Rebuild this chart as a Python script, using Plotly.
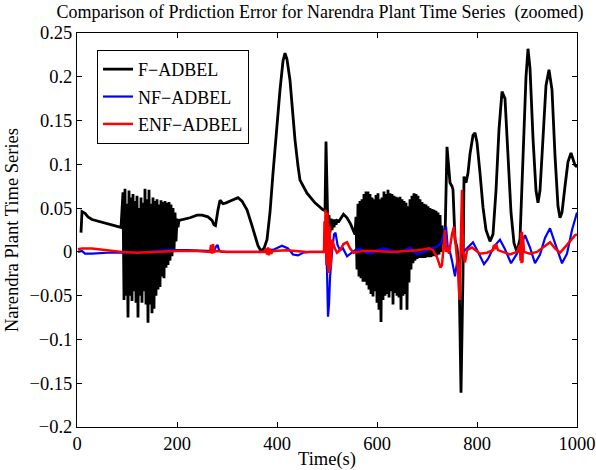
import plotly.graph_objects as go

# ---------------- data ----------------
# F-ADBEL (black): smooth parts
f_pre_t = [8, 10, 16, 22, 30, 50, 70, 88]
f_pre_v = [0.022, 0.046, 0.044, 0.040, 0.037, 0.034, 0.031, 0.028]

# burst 1: oscillation peaks (hi) and troughs (lo)
b1_t = [92, 96, 100, 104, 108, 112, 116, 120, 124, 128, 132, 136, 140, 144,
        148, 152, 156, 160, 164, 168, 172, 176, 180, 184, 188, 192, 196, 200]
b1_hi = [0.068, 0.072, 0.055, 0.070, 0.062, 0.066, 0.058, 0.064, 0.050, 0.062,
         0.056, 0.072, 0.060, 0.071, 0.055, 0.062, 0.058, 0.060, 0.054, 0.059,
         0.057, 0.058, 0.056, 0.057, 0.054, 0.050, 0.045, 0.038]
b1_lo = [-0.055, -0.050, -0.075, -0.050, -0.056, -0.045, -0.058, -0.075, -0.050,
         -0.058, -0.045, -0.060, -0.081, -0.060, -0.070, -0.065, -0.050, -0.043,
         -0.040, -0.028, -0.030, -0.018, -0.015, -0.010, -0.005, 0.000, 0.012, 0.028]

f_mid_t = [204, 214, 226, 240, 250, 262, 270, 274, 277, 282, 286, 292, 298, 310,
           322, 330, 340, 350, 356, 362, 368, 374, 380, 386, 392, 400, 406, 412,
           416, 420, 426, 432, 436, 442, 446, 460, 476, 492, 496, 498, 500,
           502, 504, 506, 508, 510, 512, 514, 516, 518, 520, 524, 533, 540, 547,
           553, 556]
f_mid_v = [0.036, 0.037, 0.039, 0.042, 0.042, 0.040, 0.036, 0.031, 0.030, 0.048,
           0.059, 0.055, 0.056, 0.059, 0.062, 0.058, 0.048, 0.030, 0.017, 0.007,
           0.001, 0.004, 0.014, 0.045, 0.090, 0.150, 0.185, 0.218, 0.227, 0.220,
           0.196, 0.155, 0.128, 0.098, 0.082, 0.067, 0.056, 0.048, 0.047, 0.126,
           0.045, 0.020, 0.042, 0.022, 0.038, 0.025, 0.037, 0.028, 0.037, 0.031,
           0.036, 0.035, 0.043, 0.039, 0.032, 0.025, 0.020]

# burst 2
b2_t = [558, 562, 566, 570, 574, 578, 582, 586, 590, 594, 598, 602, 606, 610,
        614, 618, 622, 626, 630, 634, 638, 642, 646, 650, 654, 658, 662, 666,
        670, 674, 678, 682, 686, 690, 694, 698, 702, 706, 710, 714, 718, 722,
        726, 730]
b2_hi = [0.040, 0.055, 0.058, 0.060, 0.066, 0.069, 0.069, 0.066, 0.062, 0.060,
         0.065, 0.067, 0.060, 0.062, 0.069, 0.066, 0.071, 0.067, 0.066, 0.064,
         0.063, 0.062, 0.063, 0.060, 0.058, 0.056, 0.052, 0.060, 0.064, 0.067,
         0.066, 0.064, 0.060, 0.057, 0.055, 0.054, 0.052, 0.050, 0.049, 0.048,
         0.047, 0.045, 0.042, 0.030]
b2_lo = [-0.020, -0.028, -0.030, -0.034, -0.034, -0.038, -0.043, -0.048, -0.051,
         -0.045, -0.058, -0.066, -0.080, -0.055, -0.050, -0.048, -0.052, -0.045,
         -0.060, -0.047, -0.050, -0.052, -0.066, -0.050, -0.048, -0.066, -0.035,
         -0.020, -0.013, -0.010, -0.008, -0.007, -0.007, -0.007, -0.007, -0.006,
         -0.006, -0.006, -0.005, -0.005, -0.004, -0.003, 0.000, 0.010]

f_end_t = [734, 736, 740, 744, 746, 750, 752, 756, 760, 764, 768, 772, 774, 778,
           782, 786, 792, 796, 800, 806, 812, 818, 826, 832, 838, 844, 850, 856,
           862, 868, 874, 880, 886, 892, 898, 902, 906, 912, 918, 922, 926, 932,
           938, 944, 950, 956, 962, 966, 970, 976, 982, 988, 992, 996, 1000]
f_end_v = [0.010, 0.014, 0.120, 0.095, 0.079, 0.075, 0.071, 0.014, 0.005, -0.020,
           -0.161, -0.024, 0.086, 0.079, 0.090, 0.112, 0.133, 0.136, 0.125, 0.090,
           0.051, 0.025, 0.012, 0.020, 0.070, 0.140, 0.183, 0.175, 0.110, 0.045,
           0.010, 0.000, 0.015, 0.100, 0.200, 0.232, 0.210, 0.130, 0.070, 0.056,
           0.070, 0.130, 0.190, 0.208, 0.185, 0.110, 0.052, 0.039, 0.045, 0.075,
           0.103, 0.113, 0.105, 0.099, 0.097]

# NF-ADBEL (blue)
nf_t = [2, 10, 16, 30, 60, 100, 140, 180, 220, 260, 274, 278, 281, 284, 290, 330,
        370, 395, 410, 422, 432, 442, 452, 466, 490, 498, 500, 502, 504, 506, 510,
        514, 517, 521, 526, 532, 540, 548, 556, 566, 578, 590, 600, 612, 626, 640,
        656, 666, 680, 694, 708, 720, 728, 734, 738, 742, 746, 750, 756, 760, 764,
        768, 772, 780, 792, 802, 814, 822, 834, 846, 856, 868, 880, 896, 906, 916,
        926, 936, 946, 956, 970, 980, 990, 1000]
nf_v = [0.000, 0.001, -0.002, -0.002, -0.001, -0.001, 0.000, 0.002, 0.002, 0.001,
        0.001, 0.006, 0.008, 0.002, 0.000, 0.000, 0.000, 0.003, 0.007, 0.004,
        -0.003, -0.004, -0.001, 0.000, 0.000, 0.000, -0.020, -0.074, -0.060, -0.030,
        0.000, 0.020, 0.022, 0.008, 0.002, 0.004, -0.005, -0.001, 0.002, 0.004,
        -0.001, -0.002, 0.002, 0.004, 0.002, -0.001, 0.002, 0.005, -0.003, 0.000,
        0.004, 0.006, 0.010, 0.022, 0.029, 0.002, 0.000, -0.010, -0.028, -0.012,
        -0.015, -0.005, 0.000, 0.004, 0.011, 0.000, -0.014, -0.008, 0.006, 0.014,
        0.003, -0.013, -0.002, 0.019, 0.005, -0.013, -0.003, 0.016, 0.027, 0.010,
        -0.013, -0.002, 0.025, 0.045]

# ENF-ADBEL (red)
enf_t = [2, 10, 30, 60, 90, 120, 160, 200, 240, 266, 268, 270, 272, 274, 278, 300,
         340, 376, 378, 380, 382, 384, 386, 388, 392, 420, 460, 490, 494, 495, 496,
         497, 499, 501, 503, 505, 507, 510, 515, 520, 526, 533, 540, 546, 553, 570,
         600, 630, 660, 680, 694, 704, 712, 720, 727, 730, 733, 736, 738, 741, 744,
         750, 754, 758, 762, 765, 767, 770, 772, 776, 780, 790, 806, 820, 832, 834,
         836, 838, 842, 856, 866, 880, 886, 887, 888, 889, 890, 891, 892, 894, 906,
         920, 935, 946, 956, 966, 980, 996, 1000]
enf_v = [0.003, 0.004, 0.004, 0.002, 0.000, -0.001, 0.000, 0.001, 0.001, 0.000,
         0.008, -0.002, 0.009, 0.000, 0.001, 0.000, 0.000, 0.000, 0.004, -0.003,
         0.005, -0.004, 0.004, -0.002, 0.001, 0.002, 0.000, 0.000, 0.000, 0.035,
         0.000, 0.048, -0.015, 0.045, -0.024, 0.030, -0.020, 0.014, 0.005, -0.001,
         0.002, 0.009, 0.011, 0.004, -0.001, 0.001, 0.001, 0.000, 0.001, 0.002,
         0.003, 0.004, 0.002, -0.006, -0.018, -0.015, 0.005, 0.025, 0.000, 0.005,
         -0.002, 0.020, 0.029, 0.000, -0.020, -0.055, -0.010, 0.071, 0.000, -0.012,
         0.002, 0.005, -0.002, -0.001, 0.002, 0.008, 0.003, 0.009, 0.002, -0.001,
         -0.003, 0.000, 0.008, -0.010, 0.022, -0.013, 0.023, -0.012, 0.018, 0.000,
         -0.002, 0.000, 0.006, 0.011, 0.004, -0.001, 0.008, 0.019, 0.020]

x_ticks = [0, 200, 400, 600, 800, 1000]
y_ticks = [-0.2, -0.15, -0.1, -0.05, 0, 0.05, 0.1, 0.15, 0.2, 0.25]

# ---------------- assemble the black series ----------------
def zigzag(ts, his, los):
    xs, ys = [], []
    for t, h, l in zip(ts, his, los):
        xs += [t, t + 2]
        ys += [h, l]
    return xs, ys

b1x, b1y = zigzag(b1_t, b1_hi, b1_lo)
b2x, b2y = zigzag(b2_t, b2_hi, b2_lo)
f_t = f_pre_t + b1x + f_mid_t + b2x + f_end_t
f_v = f_pre_v + b1y + f_mid_v + b2y + f_end_v

font_family = "Liberation Serif"
FS = 18.5

fig = go.Figure()
fig.add_trace(go.Scatter(x=f_t, y=f_v, mode="lines", name="F\u2212ADBEL",
                         legendgroup="a", line=dict(color="#000000", width=2.8)))
fig.add_trace(go.Scatter(x=nf_t, y=nf_v, mode="lines", name="NF\u2212ADBEL",
                         legendgroup="b", line=dict(color="#0000ff", width=2.2)))
fig.add_trace(go.Scatter(x=enf_t, y=enf_v, mode="lines", name="ENF\u2212ADBEL",
                         legendgroup="c", line=dict(color="#ff0000", width=2.5)))

axis_common = dict(showgrid=False, zeroline=False, showline=True, mirror="ticks",
                   linecolor="#000000", linewidth=1, ticks="inside", ticklen=5,
                   tickcolor="#000000", automargin=False,
                   tickfont=dict(family=font_family, size=FS, color="#000000"))

fig.update_layout(
    width=596, height=470,
    paper_bgcolor="white", plot_bgcolor="white",
    margin=dict(l=77, r=19, t=33, b=43),
    font=dict(family=font_family, size=FS, color="#000000"),
    title=dict(text="Comparison of Prdiction Error for Narendra Plant Time Series  (zoomed)",
               x=0.537, xanchor="center", y=0.9745, yanchor="middle",
               font=dict(family=font_family, size=18, color="#000000")),
    xaxis=dict(range=[0, 1000], tickvals=x_ticks,
               title=dict(text="Time(s)", standoff=0,
                          font=dict(family=font_family, size=FS)),
               **axis_common),
    yaxis=dict(range=[-0.2, 0.25], tickvals=y_ticks,
               title=dict(text="Narendra Plant Time Series", standoff=6,
                          font=dict(family=font_family, size=FS)),
               **axis_common),
    legend=dict(x=0.04, y=0.957, xanchor="left", yanchor="top",
                bgcolor="white", bordercolor="#000000", borderwidth=1,
                font=dict(family=font_family, size=18, color="#000000"),
                traceorder="grouped", tracegroupgap=1,
                itemwidth=30),
    showlegend=True,
)

fig.write_html("out.html", config={"displayModeBar": False},
               post_script="document.body.style.margin='0';document.body.style.padding='0';")
